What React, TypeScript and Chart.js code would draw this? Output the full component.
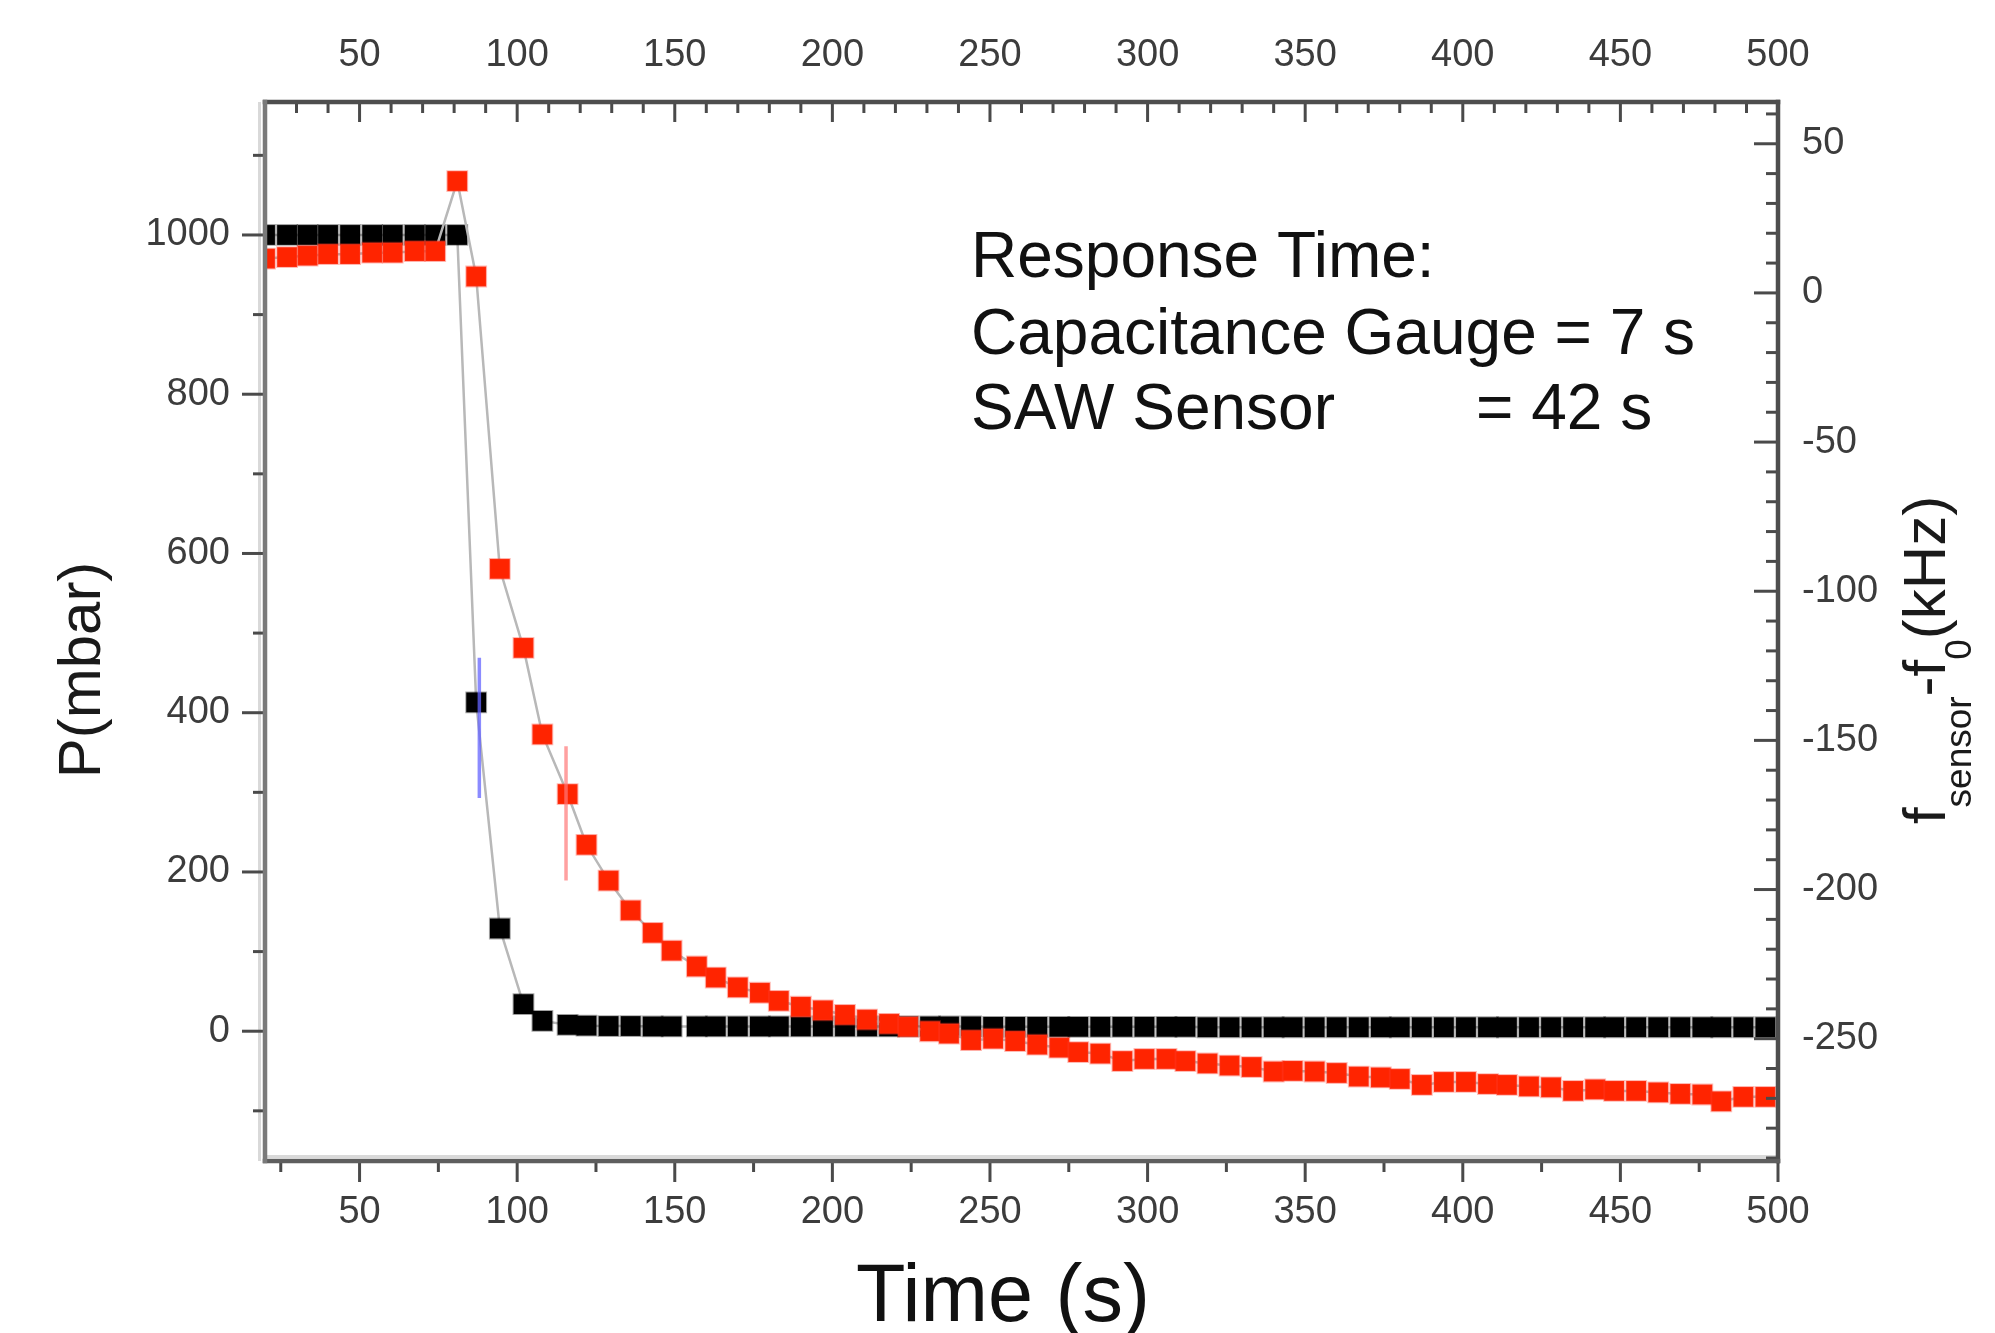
import React, { useEffect, useRef } from 'react';
import { Chart, registerables } from 'chart.js';

Chart.register(...registerables);

// ---- data ----
const timeS = [
  20, 27, 33.5, 40, 47, 54, 60.5, 67.5, 74, 81,
  87, 94.5, 102, 108, 116, 122, 129, 136, 143, 149,
  157, 163, 170, 177, 183, 190, 197, 204, 211, 218,
  224, 231, 237, 244, 251, 258, 265, 272, 278, 285,
  292, 299, 306, 312, 319, 326, 333, 340, 346, 353,
  360, 367, 374, 380, 387, 394, 401, 408, 414, 421,
  428, 435, 442, 448, 455, 462, 469, 476, 482, 489,
  496,
];

// Capacitance gauge pressure, P (mbar) – left axis
const pressureMbar = [
  1000, 1000, 1000, 1000, 1000, 1000, 1000, 1000, 1000, 1000,
  413, 129, 34, 13, 8, 7, 6.5, 6.5, 6, 6,
  6, 6, 6, 6, 6, 6, 6, 6, 6, 6,
  6, 6, 6, 6, 5.5, 5.5, 5.5, 5.5, 5.5, 5.5,
  5.5, 5.5, 5.5, 5.5, 5, 5, 5, 5, 5, 5,
  5, 5, 5, 5, 5, 5, 5, 5, 5, 5,
  5, 5, 5, 5, 5, 5, 5, 5, 5, 5,
  5,
];

// SAW sensor frequency shift, f_sensor - f_0 (kHz) – right axis
const freqShiftKHz = [
  11.5, 12, 12.5, 13, 13, 13.5, 13.5, 14, 14, 37.5,
  5.5, -92.5, -119, -148, -168, -185, -197, -207, -214.5, -220.5,
  -225.8, -229.5, -232.8, -234.6, -237.3, -239.3, -240.5, -242, -243.6, -245,
  -246, -247.5, -248.3, -250.5, -250, -250.8, -252, -253, -254.5, -255,
  -257.5, -256.8, -256.8, -257.5, -258.3, -259, -259.5, -261, -260.8, -261,
  -261.5, -262.7, -263, -263.5, -265.5, -264.5, -264.5, -265.2, -265.5, -266,
  -266.3, -267.5, -267, -267.5, -267.5, -268, -268.5, -268.7, -271, -269.5,
  -269.5,
];

// error bars
const gaugeErrTime = [88, 88];
const gaugeErrValues = [469, 293];
const sawErrTime = [115.5, 115.5];
const sawErrValues = [-152, -197];

// tick labels
const timeTicks = [50, 100, 150, 200, 250, 300, 350, 400, 450, 500];
const pressureTicks = [0, 200, 400, 600, 800, 1000];
const freqTicks = [-250, -200, -150, -100, -50, 0, 50];

const annotationLines = ['Response Time:', 'Capacitance Gauge = 7 s', 'SAW Sensor'];
const annotationValue = '= 42 s';

const FONT = '"Liberation Sans", Arial, Helvetica, sans-serif';
const TICK_COLOR = '#3c3c3c';

const framePlugin = {
  id: 'frame',
  afterDatasetsDraw(chart: any) {
    const { ctx, chartArea: a, scales } = chart;
    const xs = scales.x;
    const xt = scales.x2;
    const yl = scales.y;
    const yr = scales.y2;
    ctx.save();

    // soft shading next to left and bottom axis lines
    ctx.fillStyle = '#d9d9d9';
    ctx.fillRect(a.left - 7, a.top, 3, a.bottom - a.top);
    ctx.fillRect(a.left, a.bottom - 6, a.right - a.left, 3);

    const seg = (x1: number, y1: number, x2: number, y2: number) => {
      ctx.beginPath();
      ctx.moveTo(x1, y1);
      ctx.lineTo(x2, y2);
      ctx.stroke();
    };

    ctx.strokeStyle = '#4a4a4a';
    ctx.lineWidth = 3;
    // bottom ticks: major 50 (out), minor 25 (out)
    for (let v = 25; v <= 500; v += 25) {
      const px = xs.getPixelForValue(v);
      const major = v % 50 === 0;
      seg(px, a.bottom, px, a.bottom + (major ? 21 : 11));
    }
    // top ticks: major 50 (in), minor 10 (in)
    for (let v = 20; v <= 500; v += 10) {
      const px = xt.getPixelForValue(v);
      const major = v % 50 === 0;
      seg(px, a.top, px, a.top + (major ? 20 : 11));
    }
    // left ticks: major 200 (out), minor 100 (out)
    for (let v = -100; v <= 1100; v += 100) {
      const py = yl.getPixelForValue(v);
      const major = v % 200 === 0;
      seg(a.left, py, a.left - (major ? 23 : 12), py);
    }
    // right ticks: major 50 (in), minor 10 (in)
    for (let v = -290; v <= 60; v += 10) {
      const py = yr.getPixelForValue(v);
      const major = v % 50 === 0;
      seg(a.right, py, a.right - (major ? 24 : 12), py);
    }

    // frame
    ctx.lineCap = 'square';
    ctx.lineWidth = 4.5;
    ctx.strokeStyle = '#4e4e4e';
    seg(a.left, a.top, a.right, a.top);
    seg(a.right, a.top, a.right, a.bottom);
    ctx.strokeStyle = '#5e5e5e';
    seg(a.left, a.bottom, a.right, a.bottom);
    ctx.strokeStyle = '#7a7a7a';
    seg(a.left, a.top, a.left, a.bottom);

    // annotation
    ctx.fillStyle = '#111';
    ctx.textAlign = 'left';
    ctx.textBaseline = 'alphabetic';
    ctx.font = `64px ${FONT}`;
    ctx.fillText(annotationLines[0], 971, 277);
    ctx.fillText(annotationLines[1], 971, 354);
    ctx.fillText(annotationLines[2], 971, 429);
    ctx.fillText(annotationValue, 1476, 429);

    // bottom title
    ctx.textAlign = 'center';
    ctx.font = `81px ${FONT}`;
    ctx.fillText('Time (s)', 1003, 1321);

    // left title
    ctx.save();
    ctx.translate(100, 670);
    ctx.rotate(-Math.PI / 2);
    ctx.font = `60px ${FONT}`;
    ctx.textAlign = 'center';
    ctx.fillStyle = '#1a1a1a';
    ctx.fillText('P(mbar)', 0, 0);
    ctx.restore();

    // right title with subscripts
    ctx.save();
    ctx.translate(1945, 660);
    ctx.rotate(-Math.PI / 2);
    ctx.fillStyle = '#1a1a1a';
    ctx.textAlign = 'left';
    const big = `60px ${FONT}`;
    const small = `37px ${FONT}`;
    const parts: [string, string, number][] = [
      ['f', big, 0],
      ['sensor', small, 26],
      ['-f', big, 0],
      ['0', small, 26],
      ['(kHz)', big, 0],
    ];
    let total = 0;
    for (const [t, f] of parts) {
      ctx.font = f;
      total += ctx.measureText(t).width;
    }
    let cx = -total / 2;
    for (const [t, f, dy] of parts) {
      ctx.font = f;
      ctx.fillText(t, cx, dy);
      cx += ctx.measureText(t).width;
    }
    ctx.restore();

    ctx.restore();
  },
};

const plainLabel = (v: any) => String(v);

export default function App() {
  const ref = useRef<HTMLCanvasElement | null>(null);

  useEffect(() => {
    if (!ref.current) return;
    const tickFont = { family: FONT, size: 38 };
    const chart = new Chart(ref.current, {
      type: 'line',
      data: {
        datasets: [
          {
            label: 'gauge error',
            data: gaugeErrTime.map((t, i) => ({ x: t, y: gaugeErrValues[i] })),
            xAxisID: 'x',
            yAxisID: 'y',
            borderColor: 'rgba(100,100,255,0.75)',
            borderWidth: 3.5,
            pointRadius: 0,
            order: 0,
          },
          {
            label: 'SAW error',
            data: sawErrTime.map((t, i) => ({ x: t, y: sawErrValues[i] })),
            xAxisID: 'x',
            yAxisID: 'y2',
            borderColor: 'rgba(255,120,120,0.7)',
            borderWidth: 3.5,
            pointRadius: 0,
            order: 0,
          },
          {
            label: 'SAW Sensor',
            data: timeS.map((t, i) => ({ x: t, y: freqShiftKHz[i] })),
            xAxisID: 'x',
            yAxisID: 'y2',
            borderColor: '#b8b8b8',
            borderWidth: 2.5,
            tension: 0,
            pointStyle: 'rect',
            pointRadius: 14,
            pointBorderWidth: 2,
            pointBorderColor: 'rgba(255,60,40,0.35)',
            pointBackgroundColor: '#ff2400',
            clip: 0,
            order: 1,
          },
          {
            label: 'Capacitance Gauge',
            data: timeS.map((t, i) => ({ x: t, y: pressureMbar[i] })),
            xAxisID: 'x',
            yAxisID: 'y',
            borderColor: '#b8b8b8',
            borderWidth: 2.5,
            tension: 0,
            pointStyle: 'rect',
            pointRadius: 14,
            pointBorderWidth: 2,
            pointBorderColor: 'rgba(0,0,0,0.35)',
            pointBackgroundColor: '#000000',
            clip: 0,
            order: 2,
          },
        ],
      },
      options: {
        animation: false,
        responsive: false,
        devicePixelRatio: 1,
        layout: { padding: 0 },
        plugins: {
          legend: { display: false },
          tooltip: { enabled: false },
        },
        scales: {
          x: {
            type: 'linear',
            position: 'bottom',
            min: 20,
            max: 500,
            afterBuildTicks: (s: any) => {
              s.ticks = timeTicks.map((v) => ({ value: v }));
            },
            afterFit: (s: any) => {
              s.height = 172;
            },
            grid: { display: false, drawTicks: false },
            border: { display: false },
            ticks: { font: tickFont, color: TICK_COLOR, padding: 29, autoSkip: false, maxRotation: 0, callback: plainLabel },
          },
          x2: {
            type: 'linear',
            position: 'top',
            min: 20,
            max: 500,
            afterBuildTicks: (s: any) => {
              s.ticks = timeTicks.map((v) => ({ value: v }));
            },
            afterFit: (s: any) => {
              s.height = 102;
            },
            grid: { display: false, drawTicks: false },
            border: { display: false },
            ticks: { font: tickFont, color: TICK_COLOR, padding: 24, autoSkip: false, maxRotation: 0, callback: plainLabel },
          },
          y: {
            type: 'linear',
            position: 'left',
            min: -163,
            max: 1167,
            afterBuildTicks: (s: any) => {
              s.ticks = pressureTicks.map((v) => ({ value: v }));
            },
            afterFit: (s: any) => {
              s.width = 265;
            },
            grid: { display: false, drawTicks: false },
            border: { display: false },
            ticks: { font: tickFont, color: TICK_COLOR, padding: 35, autoSkip: false, callback: plainLabel },
          },
          y2: {
            type: 'linear',
            position: 'right',
            min: -291,
            max: 64,
            afterBuildTicks: (s: any) => {
              s.ticks = freqTicks.map((v) => ({ value: v }));
            },
            afterFit: (s: any) => {
              s.width = 217;
            },
            grid: { display: false, drawTicks: false },
            border: { display: false },
            ticks: { font: tickFont, color: TICK_COLOR, padding: 24, autoSkip: false, callback: plainLabel },
          },
        },
      } as any,
      plugins: [framePlugin],
    });
    return () => chart.destroy();
  }, []);

  return (
    <div style={{ position: 'absolute', left: 0, top: 0, width: 1995, height: 1333, background: '#fff' }}>
      <canvas ref={ref} width={1995} height={1333} style={{ width: 1995, height: 1333, display: 'block' }} />
    </div>
  );
}
